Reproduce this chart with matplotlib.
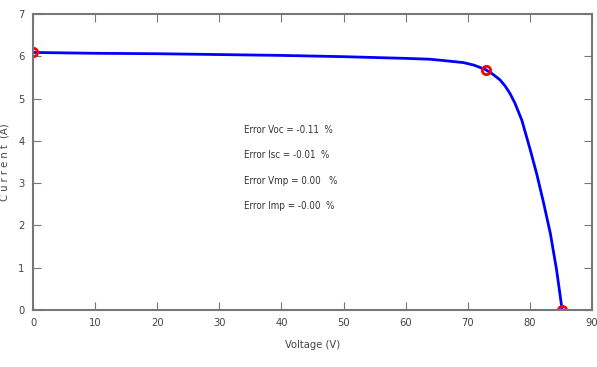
import matplotlib
matplotlib.use("Agg")
import matplotlib.pyplot as plt
from matplotlib import font_manager

voltage = [0, 5, 10, 20, 30, 40, 50, 55, 60, 63.9, 66, 69.3, 71, 72.8, 74, 75.2, 76.0, 76.8, 77.6, 78.7, 80.0, 81.1, 82.2, 83.3, 84.3, 85.2]
current = [6.09, 6.08, 6.07, 6.06, 6.04, 6.02, 5.99, 5.97, 5.95, 5.93, 5.90, 5.85, 5.79, 5.69, 5.58, 5.44, 5.30, 5.12, 4.89, 4.49, 3.82, 3.22, 2.54, 1.81, 0.95, 0.0]

key_v = [0, 73, 85.2]
key_i = [6.09, 5.67, 0.0]

errors = ["Error Voc = -0.11  %", "Error Isc = -0.01  %", "Error Vmp = 0.00   %", "Error Imp = -0.00  %"]
err_y = [4.26, 3.66, 3.05, 2.46]

xticks = list(range(0, 91, 10))
yticks = list(range(0, 8))

names = {f.name for f in font_manager.fontManager.ttflist}
fam = "Liberation Sans Narrow" if "Liberation Sans Narrow" in names else "DejaVu Sans"
plt.rcParams['font.family'] = [fam, 'DejaVu Sans']
plt.rcParams['font.stretch'] = 'condensed'

fig = plt.figure(figsize=(5.97, 3.67), dpi=100)
ax = fig.add_axes([0.0553, 0.155, 0.9363, 0.807])
ax.plot(voltage, current, color='#0000ff', lw=2.0, solid_joinstyle='round')
ax.plot(key_v, key_i, 'o', mfc='none', mec='red', mew=2, ms=6)
for t, y in zip(errors, err_y):
    ax.text(34, y, t, fontsize=7, color='#333333', va='center')
ax.set_xlim(0, 90)
ax.set_ylim(0, 7)
ax.set_xticks(xticks)
ax.set_yticks(yticks)
ax.tick_params(direction='in', length=6, color='#777777', labelsize=8, labelcolor='#444444', top=True, right=True, pad=6)
for s in ax.spines.values():
    s.set_color('#777777')
    s.set_linewidth(1.5)
ax.set_xlabel("Voltage (V)", fontsize=8, color='#444444', labelpad=8)
ax.set_ylabel("C u r r e n t  (A)", fontsize=8, color='#444444', labelpad=6)
fig.savefig("out.png", dpi=100)
